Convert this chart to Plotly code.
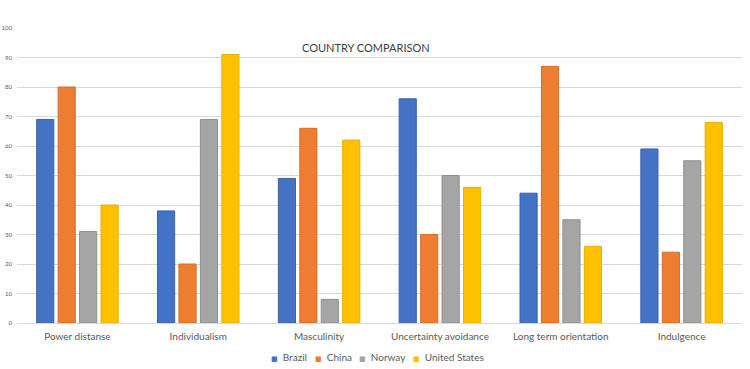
import plotly.graph_objects as go

categories = ["Power distanse", "Individualism", "Masculinity",
              "Uncertainty avoidance", "Long term orientation", "Indulgence"]
brazil = [69, 38, 49, 76, 44, 59]
china = [80, 20, 66, 30, 87, 24]
norway = [31, 69, 8, 50, 35, 55]
united_states = [40, 91, 62, 46, 26, 68]
series_names = ["Brazil", "China", "Norway", "United States"]
y_ticks = list(range(0, 101, 10))

colors = ["#4472C4", "#ED7D31", "#A5A5A5", "#FFC000"]
edges = ["#3A63AD", "#D66F2A", "#8F8F8F", "#E8B000"]

W, H = 750, 369
ml, mr, mt, mb = 17, 8, 28, 46
pw, ph = W - ml - mr, H - mt - mb

def px_x(x):
    return (x - ml) / pw

def px_y(y):
    return 1 - (y - mt) / ph

fig = go.Figure()
for name, vals, c, e in zip(series_names, [brazil, china, norway, united_states], colors, edges):
    fig.add_trace(go.Bar(x=categories, y=vals, name=name,
                         marker=dict(color=c, line=dict(color=e, width=1))))

annotations = [dict(text="COUNTRY COMPARISON", xref="paper", yref="paper",
                    x=px_x(366), y=px_y(47), xanchor="center", yanchor="middle",
                    showarrow=False, font=dict(size=11, color="#404040"))]

# legend built as annotations (compact Excel-like layout)
legend_x = [269, 313, 357, 411]
for name, c, lx in zip(series_names, colors, legend_x):
    annotations.append(dict(
        text=f'<span style="color:{c};font-size:7px;font-family:DejaVu Sans">■</span>  {name}',
        xref="paper", yref="paper", x=px_x(lx), y=px_y(357),
        xanchor="left", yanchor="middle", showarrow=False,
        font=dict(size=10, color="#595959")))

fig.update_layout(
    width=W, height=H,
    margin=dict(l=ml, r=mr, t=mt, b=mb, autoexpand=False),
    paper_bgcolor="white", plot_bgcolor="white",
    barmode="group", bargap=0.29, bargroupgap=0.2,
    font=dict(family="Lato, 'Open Sans', sans-serif", color="#595959"),
    showlegend=False,
    annotations=annotations,
)
fig.update_xaxes(showline=False, ticks="", tickfont=dict(size=10, color="#595959"),
                 showgrid=False, automargin=False, ticklabelstandoff=6)
fig.update_yaxes(range=[0, 100], tickvals=y_ticks, showgrid=True, gridcolor="#D9D9D9",
                 gridwidth=1, zeroline=True, zerolinecolor="#D9D9D9", zerolinewidth=1,
                 tickfont=dict(size=6, color="#595959"), ticks="", showline=False,
                 automargin=False, ticklabelstandoff=4)

fig.write_html("out.html", config={"displayModeBar": False},
               post_script="document.body.style.margin='0';")
